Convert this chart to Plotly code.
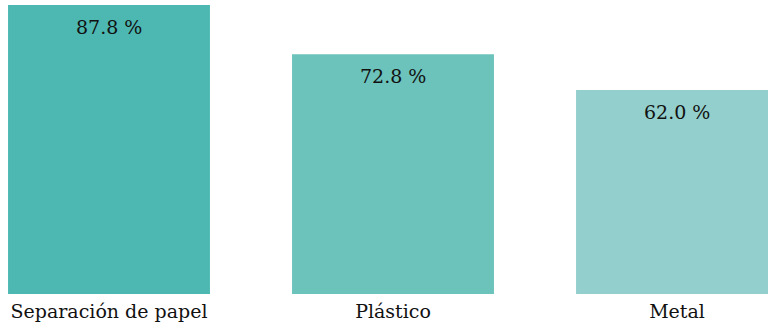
import plotly.graph_objects as go

categories = ["Separación de papel", "Plástico", "Metal"]
values = [87.8, 72.8, 62.0]
labels = ["87.8 %", "72.8 %", "62.0 %"]
colors = ["#4db8b2", "#6cc3bc", "#93cfcc"]

FONT = "DejaVu Serif"

fig = go.Figure()
fig.add_trace(go.Bar(
    x=list(range(len(categories))), y=values,
    marker=dict(color=colors, line=dict(width=0)),
    hoverinfo="skip",
))
for i, (v, t) in enumerate(zip(values, labels)):
    fig.add_annotation(x=i, y=v, text=t, showarrow=False, yanchor="top",
                       yshift=-9, font=dict(family=FONT, size=19, color="#111111"))

fig.update_layout(
    width=768, height=328,
    margin=dict(l=0, r=0, t=0, b=34),
    paper_bgcolor="white", plot_bgcolor="white",
    bargap=0.289, showlegend=False,
    font=dict(family=FONT, size=19, color="#111111"),
    xaxis=dict(range=[-109/284, (768-109)/284], tickmode="array",
               tickvals=list(range(len(categories))), ticktext=categories,
               showgrid=False, zeroline=False, showline=False, ticks="",
               ticklabelstandoff=4,
               tickfont=dict(family=FONT, size=19, color="#111111")),
    yaxis=dict(range=[0, 294/(289/87.8)], visible=False),
)
fig.write_html("out.html")
